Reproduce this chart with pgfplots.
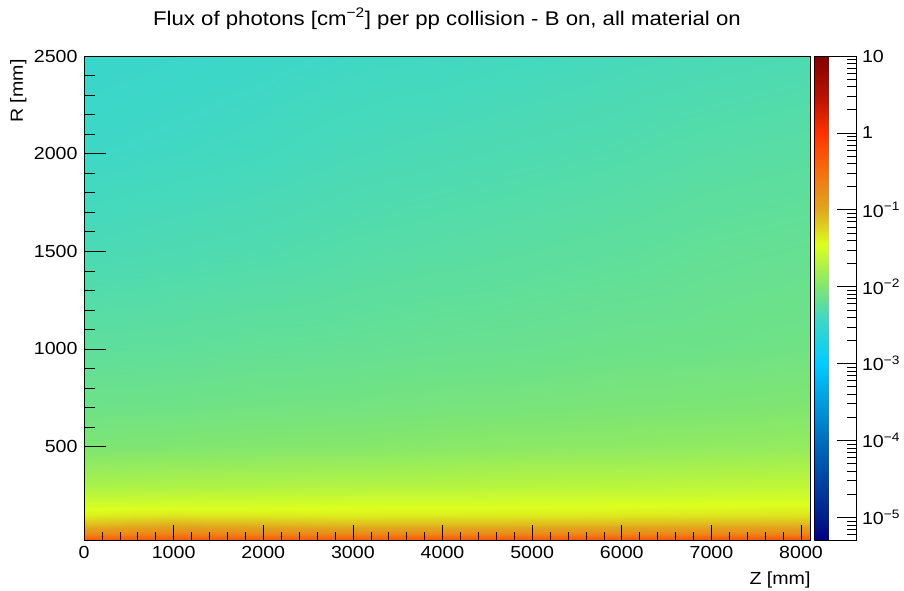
\documentclass[border=0pt]{standalone}
\usepackage{fontspec}
\setmainfont{Liberation Sans}[FakeStretch=1.12]
\usepackage{pgfplots}
\pgfplotsset{compat=1.18}
\pgfplotsset{/pgf/number format/assume math mode=true}
\newcommand{\fs}{\fontsize{17.5}{19}\selectfont}
\newcommand{\ft}{\fontsize{19.8}{22}\selectfont}
\begin{document}
\begin{tikzpicture}
\useasboundingbox (0,0) rectangle (904pt,591pt);
\begin{axis}[
  at={(84pt,51pt)}, anchor=south west,
  scale only axis, width=726pt, height=484pt,
  axis on top,
  xmin=0, xmax=8100, ymin=22, ymax=2500,
  xtick={0,1000,...,8000}, ytick={500,1000,...,2500},
  minor x tick num=4, minor y tick num=4,
  xtick pos=bottom, ytick pos=left, tick align=inside,
  major tick length=15pt, minor tick length=8pt,
  ytick style={/pgfplots/major tick length=22pt, /pgfplots/minor tick length=11pt},
  tick style={black, line width=0.6pt},
  axis line style={black, line width=0.6pt},
  tick label style={font=\fs},
  xticklabel style={yshift=-3pt},
  yticklabel style={xshift=-3pt},
  scaled ticks=false,
  /pgf/number format/1000 sep={},
  title={Flux of photons [cm\textsuperscript{−2}] per pp collision - B on, all material on},
  title style={font=\ft, yshift=17pt},
  xlabel={Z [mm]},
  xlabel style={font=\fs, at={(axis description cs:1,0)}, anchor=north east, yshift=-28pt, xshift=4pt},
  ylabel={R [mm]},
  ylabel style={font=\fs, at={(axis description cs:-0.0744,1)}, anchor=south east, rotate=0},
  colormap={rootrb}{rgb255(0pt)=(0,0,128); rgb255(48pt)=(0,30,140); rgb255(207pt)=(0,110,190); rgb255(366pt)=(0,205,255); rgb255(455pt)=(62,215,198); rgb255(525pt)=(130,230,110); rgb255(610pt)=(220,255,30); rgb255(684pt)=(225,165,30); rgb255(764pt)=(245,110,15); rgb255(841pt)=(255,50,0); rgb255(909pt)=(190,20,0); rgb255(1000pt)=(128,0,0)},
  point meta min=-5.294, point meta max=1,
  colorbar,
  colorbar style={
    at={(parent axis.north east)}, anchor=north west, xshift=-4pt,
    scale only axis, width=42pt, height=484pt,
    ytick={-5,-4,-3,-2,-1,0,1},
    yticklabels={10\textsuperscript{−5},10\textsuperscript{−4},10\textsuperscript{−3},10\textsuperscript{−2},10\textsuperscript{−1},1,10},
    minor ytick={-5.69897,-5.52288,-5.39794,-5.30103,-5.22185,-5.15490,-5.09691,-5.04576,
      -4.69897,-4.52288,-4.39794,-4.30103,-4.22185,-4.15490,-4.09691,-4.04576,
      -3.69897,-3.52288,-3.39794,-3.30103,-3.22185,-3.15490,-3.09691,-3.04576,
      -2.69897,-2.52288,-2.39794,-2.30103,-2.22185,-2.15490,-2.09691,-2.04576,
      -1.69897,-1.52288,-1.39794,-1.30103,-1.22185,-1.15490,-1.09691,-1.04576,
      -0.69897,-0.52288,-0.39794,-0.30103,-0.22185,-0.15490,-0.09691,-0.04576,
      0.30103,0.47712,0.60206,0.69897,0.77815,0.84510,0.90309,0.95424},
    ytick pos=right, yticklabel pos=right, tick align=inside,
    major tick length=20pt, minor tick length=10pt,
    ytick style={/pgfplots/major tick length=20pt, /pgfplots/minor tick length=10pt},
    tick style={black, line width=0.6pt},
    axis line style={black, line width=0.6pt},
    yticklabel style={font=\fs, xshift=2pt},
  },
]
% values: log10 of photon flux per cm^2 per pp collision
\addplot[surf, shader=interp, mesh/cols=9, point meta=explicit] table[x=Z, y=R, meta=lg] {
Z R lg
0 22 -0.30
1000 22 -0.28
2000 22 -0.29
3000 22 -0.29
4000 22 -0.28
5000 22 -0.28
6000 22 -0.27
7000 22 -0.26
8100 22 -0.25
0 40 -0.55
1000 40 -0.50
2000 40 -0.53
3000 40 -0.54
4000 40 -0.53
5000 40 -0.53
6000 40 -0.52
7000 40 -0.51
8100 40 -0.50
0 60 -0.80
1000 60 -0.72
2000 60 -0.77
3000 60 -0.79
4000 60 -0.79
5000 60 -0.78
6000 60 -0.77
7000 60 -0.76
8100 60 -0.75
0 100 -1.10
1000 100 -1.02
2000 100 -1.06
3000 100 -1.09
4000 100 -1.09
5000 100 -1.08
6000 100 -1.07
7000 100 -1.06
8100 100 -1.05
0 150 -1.38
1000 150 -1.33
2000 150 -1.35
3000 150 -1.37
4000 150 -1.36
5000 150 -1.35
6000 150 -1.34
7000 150 -1.33
8100 150 -1.32
0 200 -1.52
1000 200 -1.51
2000 200 -1.50
3000 200 -1.49
4000 200 -1.49
5000 200 -1.48
6000 200 -1.47
7000 200 -1.46
8100 200 -1.45
0 300 -1.75
1000 300 -1.73
2000 300 -1.72
3000 300 -1.70
4000 300 -1.69
5000 300 -1.67
6000 300 -1.66
7000 300 -1.64
8100 300 -1.62
0 500 -2.02
1000 500 -2.00
2000 500 -1.98
3000 500 -1.97
4000 500 -1.95
5000 500 -1.93
6000 500 -1.92
7000 500 -1.90
8100 500 -1.88
0 700 -2.12
1000 700 -2.11
2000 700 -2.09
3000 700 -2.08
4000 700 -2.06
5000 700 -2.05
6000 700 -2.03
7000 700 -2.02
8100 700 -2.00
0 1000 -2.22
1000 1000 -2.21
2000 1000 -2.19
3000 1000 -2.18
4000 1000 -2.16
5000 1000 -2.15
6000 1000 -2.13
7000 1000 -2.12
8100 1000 -2.10
0 1500 -2.35
1000 1500 -2.33
2000 1500 -2.31
3000 1500 -2.28
4000 1500 -2.26
5000 1500 -2.24
6000 1500 -2.22
7000 1500 -2.19
8100 1500 -2.17
0 2000 -2.43
1000 2000 -2.41
2000 2000 -2.39
3000 2000 -2.36
4000 2000 -2.34
5000 2000 -2.32
6000 2000 -2.30
7000 2000 -2.27
8100 2000 -2.25
0 2500 -2.48
1000 2500 -2.46
2000 2500 -2.44
3000 2500 -2.42
4000 2500 -2.41
5000 2500 -2.39
6000 2500 -2.37
7000 2500 -2.35
8100 2500 -2.33
};
\end{axis}
\end{tikzpicture}
\end{document}
